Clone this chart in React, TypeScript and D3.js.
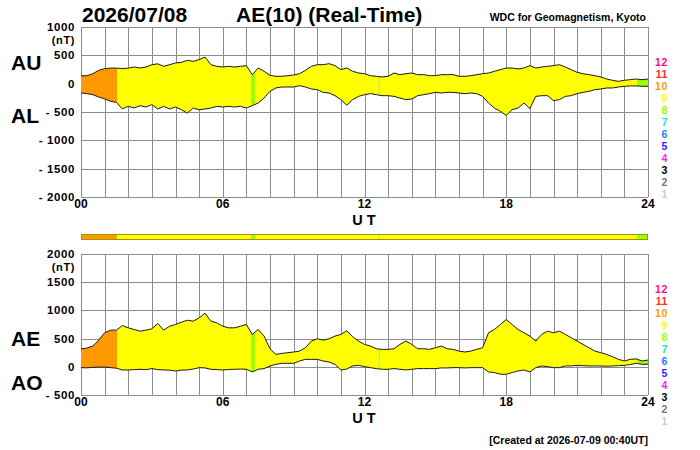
import React from 'react';
import * as d3 from 'd3';

// 15-minute samples, 00:00 .. 24:00 UT
const AU = [
  140, 140, 176, 235, 265, 275, 275, 265, 275, 294, 276, 294, 335, 350, 306, 335,
  365, 376, 412, 394, 424, 470, 335, 306, 294, 306, 294, 306, 318, 160, 276, 218,
  147, 130, 130, 141, 153, 176, 235, 306, 335, 335, 353, 318, 247, 276, 218, 188,
  176, 141, 130, 118, 130, 188, 159, 176, 188, 159, 159, 141, 141, 159, 159, 160,
  130, 130, 141, 159, 176, 188, 218, 247, 276, 276, 259, 276, 318, 276, 294, 306,
  318, 335, 294, 247, 200, 176, 159, 141, 118, 82, 59, 41, 59, 71, 82, 71, 82,
];
const AL = [
  -165, -176, -194, -235, -270, -312, -330, -447, -400, -430, -388, -412, -370, -447, -400, -447,
  -412, -460, -520, -430, -460, -447, -430, -400, -412, -400, -412, -400, -430, -388, -341, -253,
  -135, -76, -59, -59, -59, -35, -59, -94, -106, -153, -165, -212, -282, -380, -282, -224,
  -194, -176, -194, -212, -212, -224, -253, -282, -270, -212, -194, -176, -153, -165, -153, -153,
  -165, -176, -165, -176, -224, -341, -430, -488, -560, -459, -430, -341, -440, -224, -212, -212,
  -300, -282, -224, -212, -176, -153, -135, -106, -94, -76, -76, -59, -47, -40, -40, -47, -47,
];
const AE = [
  320, 332, 368, 473, 603, 650, 650, 732, 691, 662, 632, 650, 674, 768, 650, 720,
  750, 791, 826, 809, 868, 950, 809, 779, 720, 691, 691, 720, 750, 573, 662, 544,
  320, 220, 238, 250, 262, 279, 338, 456, 497, 473, 497, 544, 574, 640, 532, 456,
  397, 368, 320, 309, 309, 320, 397, 456, 397, 320, 320, 309, 338, 368, 320, 309,
  279, 262, 279, 309, 338, 603, 662, 750, 838, 750, 662, 603, 544, 456, 574, 632,
  603, 632, 574, 515, 456, 397, 338, 279, 250, 220, 179, 132, 103, 132, 140, 103, 120,
];
const AO = [
  -15, -18, -10, -5, -5, -15, -25, -56, -56, -50, -44, -50, -32, -50, -56, -60,
  -74, -60, -56, -40, -15, -20, -44, -50, -56, -48, -44, -40, -44, -91, -44, -32,
  15, 44, 62, 62, 62, 103, 132, 132, 132, 103, 85, 44, -56, -40, 15, 26,
  3, -15, -32, -44, -44, -32, -44, -56, -44, -32, -32, -32, -32, -20, -20, -15,
  -15, -20, -15, -15, -15, -91, -103, -132, -132, -103, -74, -56, -91, -15, 15, 3,
  -15, -15, 15, 15, 26, 20, 15, 15, 15, 10, 15, 20, 26, 40, 62, 44, 44,
];
const hours = AU.map((_, i) => i * 0.25);

// number of contributing stations through the day
const segStart = [0, 1.52, 7.2, 7.37, 12.6, 12.65, 23.53];
const segEnd = [1.52, 7.2, 7.37, 12.6, 12.65, 23.53, 24];
const segCount = [10, 9, 8, 9, 8, 9, 8];

const legendCounts = [12, 11, 10, 9, 8, 7, 6, 5, 4, 3, 2, 1];
const countColor: Record<number, string> = {
  12: '#ff0a78', 11: '#ff2a1a', 10: '#ff9900', 9: '#ffff00', 8: '#99ff00', 7: '#00f0c8',
  6: '#1a7dff', 5: '#3a1aff', 4: '#ff1aff', 3: '#000000', 2: '#777777', 1: '#cccccc',
};

const xTicks = [0, 6, 12, 18, 24];
const xTickLabels = ['00', '06', '12', '18', '24'];
const topTicks = [1000, 500, 0, -500, -1000, -1500, -2000];
const topTickLabels = ['1000', '500', '0', '- 500', '- 1000', '- 1500', '- 2000'];
const botTicks = [2000, 1500, 1000, 500, 0, -500];
const botTickLabels = ['2000', '1500', '1000', '500', '0', '- 500'];

const FONT = '"Liberation Sans", Arial, sans-serif';
const GRID = '#8c8c8c';

const x = d3.scaleLinear().domain([0, 24]).range([81, 648]);

interface PanelProps {
  id: string
  top: number
  bottom: number
  domain: [number, number]
  ticks: number[]
  tickLabels: string[]
  upper: number[]
  lower: number[]
  upName: string
  loName: string
  upNameY: number
  loNameY: number
}

const Panel: React.FC<PanelProps> = ({ id, top, bottom, domain, ticks, tickLabels, upper, lower, upName, loName, upNameY, loNameY }) => {
  const y = d3.scaleLinear().domain(domain).range([bottom, top]);
  const area = d3.area<number>()
    .x((_, i) => x(hours[i]))
    .y0((_, i) => y(lower[i]))
    .y1(d => y(d));
  const line = d3.line<number>()
    .x((_, i) => x(hours[i]))
    .y(d => y(d));
  const [x0, x1] = x.range();

  return (
    <g>
      <defs>
        {segCount.map((c, i) => (
          <clipPath key={i} id={`${id}-seg-${i}`}>
            <rect x={x(segStart[i])} y={top} width={x(segEnd[i]) - x(segStart[i])} height={bottom - top} />
          </clipPath>
        ))}
      </defs>
      {/* grid */}
      {d3.range(0, 25).map(h => (
        <line key={`v${h}`} x1={Math.round(x(h)) + 0.5} x2={Math.round(x(h)) + 0.5} y1={top} y2={bottom} stroke={GRID} strokeWidth={1} />
      ))}
      {ticks.map(t => (
        <line key={`h${t}`} x1={x0} x2={x1} y1={Math.round(y(t)) + 0.5} y2={Math.round(y(t)) + 0.5} stroke={GRID} strokeWidth={1} />
      ))}
      {/* filled band, coloured by station count */}
      {segCount.map((c, i) => (
        <path key={i} d={area(upper) || ''} fill={countColor[c]} clipPath={`url(#${id}-seg-${i})`} />
      ))}
      <path d={line(upper) || ''} fill="none" stroke="#1a1a1a" strokeWidth={1} />
      <path d={line(lower) || ''} fill="none" stroke="#1a1a1a" strokeWidth={1} />

      {/* y tick labels */}
      {ticks.map((t, i) => (
        <text key={t} x={75} y={y(t) + 4} textAnchor="end" fontFamily={FONT} fontWeight="bold" fontSize={11.5} letterSpacing={0.6}>
          {tickLabels[i]}
        </text>
      ))}
      <text x={75} y={top + 17} textAnchor="end" fontFamily={FONT} fontWeight="bold" fontSize={11} letterSpacing={0.6}>(nT)</text>

      {/* x tick labels */}
      {xTicks.map((t, i) => (
        <text key={t} x={x(t)} y={bottom + 11} textAnchor="middle" fontFamily={FONT} fontWeight="bold" fontSize={12}>
          {xTickLabels[i]}
        </text>
      ))}
      <text x={364} y={bottom + 28} textAnchor="middle" fontFamily={FONT} fontWeight="bold" fontSize={14.5}>U T</text>

      {/* index names */}
      <text x={11} y={upNameY} fontFamily={FONT} fontWeight="bold" fontSize={21}>{upName}</text>
      <text x={11} y={loNameY} fontFamily={FONT} fontWeight="bold" fontSize={21}>{loName}</text>

      {/* station-count legend */}
      {legendCounts.map((c, i) => (
        <text key={c} x={668} y={top + 38.5 + i * 12.05} textAnchor="end" fontFamily={FONT} fontWeight="bold" fontSize={10.5} letterSpacing={0.6} fill={countColor[c]}>
          {c}
        </text>
      ))}
    </g>
  );
};

const App: React.FC = () => {
  return (
    <div style={{ position: 'absolute', left: 0, top: 0 }}>
      <svg width={700} height={450} style={{ display: 'block', background: '#fff' }}>
        <text x={82} y={22} fontFamily={FONT} fontWeight="bold" fontSize={21}>2026/07/08</text>
        <text x={236} y={22} fontFamily={FONT} fontWeight="bold" fontSize={21}>AE(10) (Real-Time)</text>
        <text x={646} y={21} textAnchor="end" fontFamily={FONT} fontWeight="bold" fontSize={10.5}>WDC for Geomagnetism, Kyoto</text>

        <Panel id="top" top={27} bottom={197} domain={[-2000, 1000]} ticks={topTicks} tickLabels={topTickLabels}
          upper={AU} lower={AL} upName="AU" loName="AL" upNameY={70} loNameY={123} />

        {/* station-count bar */}
        {segCount.map((c, i) => (
          <rect key={i} x={x(segStart[i])} y={234} width={x(segEnd[i]) - x(segStart[i])} height={6} fill={countColor[c]} />
        ))}
        <rect x={81.5} y={234.5} width={566} height={5} fill="none" stroke="#a09800" strokeWidth={1} />

        <Panel id="bot" top={254} bottom={395} domain={[-500, 2000]} ticks={botTicks} tickLabels={botTickLabels}
          upper={AE} lower={AO} upName="AE" loName="AO" upNameY={346} loNameY={390} />

        <text x={648} y={444} textAnchor="end" fontFamily={FONT} fontWeight="bold" fontSize={10.5}>[Created at 2026-07-09 00:40UT]</text>
      </svg>
    </div>
  );
};

export default App;
